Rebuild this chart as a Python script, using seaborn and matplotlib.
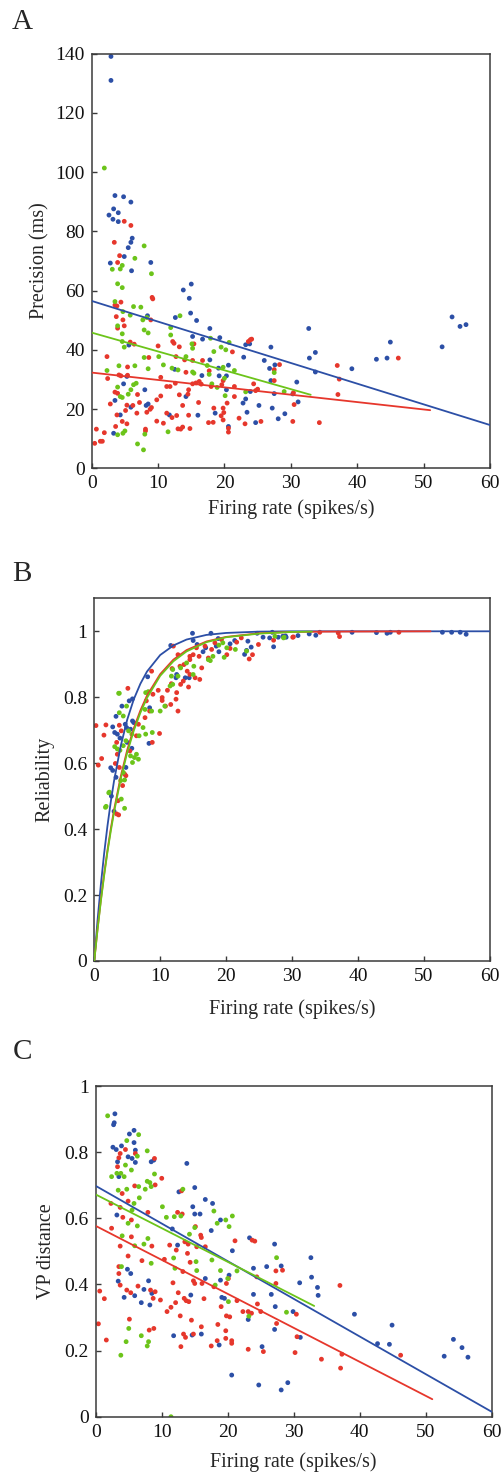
import numpy as np
import pandas as pd
import matplotlib
matplotlib.use("Agg")
import matplotlib.pyplot as plt
import seaborn as sns

# -----------------------------
# Data
# -----------------------------
# Panel A: precision vs firing rate
a_blue_x = [2.9, 2.9, 3.5, 4.8, 5.9, 3.3, 4.0, 2.6, 3.2, 4.0, 6.1, 5.9, 5.5, 2.8, 4.9, 6.0, 8.9, 13.8, 15.0, 14.7,
            14.9, 15.8, 12.6, 8.4, 5.6, 4.8, 5.3, 3.5, 3.3, 4.3, 5.9, 8.2, 8.5, 8.0, 15.2, 16.7, 17.8, 17.8, 19.3, 19.1,
            19.2, 20.3, 20.3, 20.6, 16.6, 16.0, 18.6, 20.6, 14.2, 12.5, 11.7, 22.9, 23.2, 23.8, 23.9, 23.2, 22.8, 23.4,
            24.7, 25.2, 26.0, 27.0, 26.8, 27.0, 27.5, 27.2, 27.6, 28.1, 29.1, 30.3, 30.9, 31.1, 32.7, 32.8, 33.7, 33.7,
            39.2, 42.9, 44.5, 45.0, 52.8, 54.3, 55.5, 56.4]
a_blue_y = [139.1, 131.0, 92.1, 91.7, 89.9, 87.6, 86.3, 85.5, 84.1, 83.3, 77.7, 76.3, 74.5, 69.3, 71.5, 66.7, 69.5, 60.2,
            62.2, 57.4, 52.4, 49.9, 50.9, 51.5, 41.6, 28.5, 31.0, 22.9, 11.8, 18.0, 20.6, 21.2, 21.7, 26.5, 44.5, 43.6,
            36.6, 47.2, 44.1, 33.8, 31.2, 31.2, 26.5, 34.8, 31.3, 17.9, 18.6, 14.1, 24.2, 33.4, 18.0, 37.5, 41.7, 42.0,
            25.9, 23.4, 22.0, 18.9, 15.4, 21.2, 36.4, 40.9, 33.7, 29.6, 25.2, 20.3, 34.9, 16.7, 18.4, 25.1, 29.1, 22.4,
            47.2, 37.2, 39.1, 32.5, 33.6, 36.8, 37.2, 42.6, 41.0, 51.1, 47.9, 48.5]

a_red_x = [4.9, 5.9, 3.4, 4.2, 3.9, 9.1, 9.2, 4.4, 3.5, 3.8, 4.7, 3.7, 4.9, 3.9, 8.9, 6.4, 5.8, 10.0, 8.6, 2.3, 4.1,
           4.4, 5.4, 5.4, 2.4, 3.5, 3.9, 2.8, 5.3, 5.1, 5.3, 4.6, 3.6, 3.8, 0.7, 1.9, 1.3, 1.6, 0.45, 6.9, 6.8, 7.2,
           6.2, 8.1, 8.1, 8.3, 8.8, 9.0, 9.8, 9.8, 10.4, 10.8, 10.4, 11.3, 11.3, 11.8, 12.1, 12.2, 12.4, 12.7, 12.6,
           12.8, 13.0, 13.2, 13.2, 13.4, 13.7, 13.7, 14.0, 14.2, 14.5, 14.6, 14.6, 14.8, 15.2, 15.4, 15.2, 15.7, 16.1,
           16.2, 16.5, 16.7, 17.6, 17.7, 18.0, 18.4, 18.3, 19.6, 19.5, 19.8, 19.8, 19.9, 19.8, 20.4, 20.6, 20.6, 21.2,
           21.5, 21.5, 22.2, 23.1, 23.6, 23.9, 24.1, 24.4, 24.7, 25.0, 25.5, 27.5, 27.5, 28.3, 30.4, 30.5, 30.3, 34.3,
           37.0, 37.3, 37.1, 46.2]
a_red_y = [83.4, 82.0, 76.3, 71.8, 69.5, 57.7, 57.2, 56.1, 55.1, 54.8, 50.1, 51.2, 48.1, 47.3, 50.1, 41.9, 42.6, 41.3,
           37.4, 37.7, 31.5, 31.2, 34.2, 31.4, 30.3, 25.7, 25.3, 21.7, 21.3, 19.5, 15.0, 15.8, 14.1, 18.0, 13.2, 12.0,
           9.1, 9.1, 8.4, 24.9, 18.6, 22.2, 21.2, 13.2, 12.6, 18.9, 19.9, 20.5, 23.1, 15.9, 30.7, 15.2, 24.4, 27.6,
           18.6, 27.6, 17.1, 42.8, 42.2, 37.7, 28.7, 17.8, 13.3, 41.0, 24.8, 13.2, 13.9, 21.2, 36.6, 32.4, 25.0, 26.5,
           17.9, 13.4, 36.4, 42.0, 28.5, 28.8, 22.2, 29.3, 28.4, 36.4, 15.4, 32.9, 27.6, 20.3, 15.5, 28.2, 17.7, 16.3,
           20.3, 18.8, 29.6, 22.0, 13.5, 12.2, 39.3, 27.6, 24.2, 16.9, 15.0, 42.8, 43.4, 43.6, 28.5, 26.2, 26.7, 15.8,
           33.3, 29.6, 35.0, 25.5, 21.5, 15.8, 15.4, 34.7, 30.1, 24.9, 37.2]

a_green_x = [1.9, 7.9, 3.1, 4.3, 4.6, 6.5, 9.0, 3.9, 4.6, 3.5, 4.7, 5.8, 6.3, 7.4, 7.7, 8.3, 3.9, 7.9, 8.5, 4.6, 4.6,
             4.9, 2.3, 4.1, 6.5, 7.9, 10.1, 8.5, 3.9, 4.3, 4.6, 5.5, 5.9, 6.3, 6.7, 3.9, 4.7, 5.0, 6.9, 7.8, 8.0, 10.8,
             11.5, 11.9, 11.9, 12.1, 13.0, 13.3, 14.2, 15.1, 15.2, 15.2, 15.4, 17.4, 17.7, 17.9, 18.1, 18.4, 18.9,
             19.5, 19.8, 20.0, 20.1, 20.2, 20.7, 21.5, 23.2, 27.5, 29.0]
a_green_y = [101.4, 75.1, 67.2, 67.3, 68.5, 70.9, 65.7, 62.3, 61.0, 56.3, 52.9, 51.7, 54.6, 54.4, 50.1, 50.9, 48.1, 46.7,
             45.7, 45.4, 42.8, 40.9, 33.0, 34.6, 34.6, 37.4, 37.7, 33.6, 27.4, 24.2, 23.9, 25.0, 26.5, 28.2, 28.7, 11.3,
             11.8, 12.6, 8.2, 6.2, 11.5, 34.9, 12.3, 47.5, 45.0, 33.8, 33.2, 51.5, 37.7, 42.0, 40.5, 32.5, 32.1, 34.7,
             31.7, 43.9, 28.5, 39.4, 27.3, 40.9, 34.1, 30.4, 24.5, 40.0, 42.5, 33.0, 25.8, 32.3, 25.9]

# linear fits in A (end points of each fit line)
a_fit_blue_x, a_fit_blue_y = [0, 60], [56.5, 14.6]
a_fit_red_x, a_fit_red_y = [0, 51], [32.3, 19.6]
a_fit_green_x, a_fit_green_y = [0, 33], [45.8, 24.8]

# Panel B: reliability vs firing rate
b_blue_x = [14.9, 17.7, 15.0, 11.6, 8.1, 5.3, 5.8, 4.2, 3.3, 2.8, 3.1, 3.5, 3.9, 5.8, 6.0, 4.7, 4.9, 5.5, 5.0, 5.7,
            8.3, 8.4, 2.5, 2.8, 3.3, 4.8, 2.6, 3.0, 12.4, 13.8, 14.4, 12.5, 15.6, 16.5, 16.9, 18.8, 18.5, 18.9, 20.6,
            21.3, 22.8, 23.1, 23.3, 23.8, 24.7, 25.6, 27.0, 27.2, 26.6, 27.9, 28.6, 29.1, 29.0, 30.9, 32.6, 33.6, 39.1,
            42.8, 44.4, 44.9, 52.8, 54.2, 55.5, 56.4]
b_blue_y = [0.994, 0.994, 0.972, 0.957, 0.862, 0.789, 0.795, 0.773, 0.742, 0.710, 0.693, 0.688, 0.676, 0.728, 0.723,
            0.718, 0.708, 0.703, 0.663, 0.645, 0.660, 0.768, 0.586, 0.578, 0.557, 0.587, 0.500, 0.454, 0.859, 0.859,
            0.859, 0.869, 0.960, 0.938, 0.950, 0.978, 0.955, 0.938, 0.962, 0.972, 0.930, 0.942, 0.970, 0.952, 0.994,
            0.982, 0.997, 0.953, 0.980, 0.982, 0.985, 0.982, 0.986, 0.987, 0.992, 0.988, 0.997, 0.996, 0.994, 0.997,
            0.997, 0.997, 0.997, 0.991]

b_red_x = [0.26, 1.77, 1.47, 1.12, 0.61, 5.1, 3.8, 4.1, 3.4, 3.5, 3.2, 3.8, 4.6, 4.8, 3.6, 4.3, 3.4, 3.7, 5.4, 6.4,
           9.9, 8.8, 6.7, 7.7, 8.4, 7.9, 9.7, 8.9, 8.7, 10.3, 10.3, 10.8, 11.6, 12.7, 12.4, 11.1, 11.7, 12.5, 13.1,
           14.3, 13.5, 14.5, 14.1, 13.0, 11.8, 13.6, 14.5, 15.0, 16.0, 15.9, 16.3, 15.3, 14.5, 12.7, 12.0, 15.5, 16.8,
           18.3, 19.3, 21.6, 22.3, 23.5, 24.0, 24.9, 27.2, 30.2, 20.6, 20.1, 17.8, 17.3, 30.1, 34.2, 37.0, 37.2, 46.2]
b_red_y = [0.714, 0.716, 0.685, 0.614, 0.594, 0.827, 0.715, 0.698, 0.663, 0.627, 0.599, 0.587, 0.567, 0.562, 0.486,
           0.532, 0.446, 0.443, 0.637, 0.683, 0.690, 0.663, 0.718, 0.738, 0.758, 0.789, 0.821, 0.809, 0.879, 0.790,
           0.799, 0.773, 0.778, 0.758, 0.794, 0.821, 0.841, 0.814, 0.839, 0.831, 0.849, 0.869, 0.879, 0.894, 0.887,
           0.899, 0.924, 0.929, 0.854, 0.924, 0.889, 0.859, 0.914, 0.929, 0.955, 0.950, 0.955, 0.965, 0.975, 0.967,
           0.980, 0.916, 0.929, 0.960, 0.973, 0.983, 0.948, 0.929, 0.945, 0.919, 0.982, 0.997, 0.995, 0.984, 0.997]

b_green_x = [3.8, 4.4, 4.9, 3.8, 3.1, 3.5, 3.9, 4.4, 4.8, 5.2, 5.7, 5.5, 6.1, 6.4, 6.7, 5.8, 4.4, 4.0, 4.6, 2.3, 1.8,
             4.1, 4.6, 6.8, 7.4, 7.8, 8.8, 7.7, 8.7, 10.0, 7.8, 8.2, 10.7, 11.5, 11.9, 11.9, 11.7, 12.7, 13.1, 14.0,
             15.1, 15.0, 17.3, 17.6, 18.0, 19.7, 18.9, 19.5, 20.1, 21.4, 23.1, 27.4, 28.8, 28.7, 1.7, 2.2, 3.7]
b_green_y = [0.812, 0.743, 0.773, 0.753, 0.650, 0.643, 0.639, 0.653, 0.668, 0.698, 0.688, 0.622, 0.617, 0.627, 0.612,
             0.602, 0.572, 0.547, 0.549, 0.512, 0.469, 0.491, 0.463, 0.683, 0.708, 0.688, 0.693, 0.763, 0.758, 0.758,
             0.814, 0.817, 0.773, 0.834, 0.839, 0.884, 0.864, 0.864, 0.889, 0.904, 0.894, 0.869, 0.914, 0.911, 0.924,
             0.921, 0.958, 0.965, 0.950, 0.945, 0.940, 0.985, 0.982, 0.980, 0.466, 0.510, 0.812]

# saturating fit curves in B
b_fit_blue_x = [0, 0.5, 1, 1.5, 2, 2.5, 3, 4, 5, 6, 7, 8, 10, 12, 14, 17, 20, 25, 30, 35, 60]
b_fit_blue_y = [0, 0.123, 0.231, 0.326, 0.409, 0.482, 0.546, 0.651, 0.732, 0.794, 0.841, 0.878, 0.928, 0.957, 0.975,
                0.989, 0.995, 0.999, 1.0, 1.0, 1.0]
b_fit_red_x = [0, 0.5, 1, 1.5, 2, 2.5, 3, 4, 5, 6, 7, 8, 10, 12, 14, 17, 20, 25, 30, 35, 51]
b_fit_red_y = [0, 0.097, 0.185, 0.264, 0.335, 0.400, 0.458, 0.558, 0.640, 0.706, 0.760, 0.805, 0.870, 0.914, 0.943,
               0.969, 0.983, 0.994, 0.998, 0.999, 1.0]
b_fit_green_x = [0, 0.5, 1, 1.5, 2, 2.5, 3, 4, 5, 6, 7, 8, 10, 12, 14, 17, 20, 25, 30, 33]
b_fit_green_y = [0, 0.095, 0.181, 0.259, 0.330, 0.393, 0.451, 0.551, 0.632, 0.699, 0.753, 0.798, 0.865, 0.909, 0.939,
                 0.967, 0.982, 0.993, 0.998, 0.999]

# Panel C: VP distance vs firing rate
c_blue_x = [2.9, 2.8, 2.7, 5.1, 5.8, 5.8, 2.6, 3.1, 3.9, 6.0, 4.9, 5.5, 6.0, 3.3, 8.4, 8.8, 3.5, 13.8, 12.6, 15.0,
            16.6, 17.7, 14.7, 15.0, 15.8, 17.5, 18.9, 11.6, 12.4, 20.7, 3.2, 3.4, 4.8, 5.3, 4.3, 5.9, 7.3, 6.9, 8.0,
            8.5, 8.2, 11.8, 14.6, 16.0, 14.4, 16.6, 18.9, 20.2, 19.1, 19.5, 18.7, 20.6, 23.3, 23.9, 25.9, 27.1, 28.1,
            23.9, 26.6, 27.2, 27.1, 25.2, 23.1, 24.7, 28.1, 29.1, 29.9, 32.6, 30.9, 32.7, 33.6, 33.7, 31.0, 39.2, 42.7,
            44.5, 44.9, 52.8, 54.2, 55.5, 56.4]
c_blue_y = [0.916, 0.889, 0.883, 0.855, 0.866, 0.829, 0.815, 0.808, 0.819, 0.806, 0.786, 0.781, 0.769, 0.771, 0.771,
            0.776, 0.726, 0.766, 0.680, 0.693, 0.657, 0.645, 0.635, 0.613, 0.613, 0.563, 0.595, 0.568, 0.519, 0.502,
            0.610, 0.410, 0.446, 0.433, 0.361, 0.366, 0.385, 0.345, 0.411, 0.373, 0.338, 0.245, 0.247, 0.250, 0.368,
            0.418, 0.413, 0.428, 0.361, 0.358, 0.217, 0.126, 0.541, 0.449, 0.454, 0.522, 0.456, 0.370, 0.370, 0.333,
            0.264, 0.212, 0.294, 0.096, 0.081, 0.103, 0.318, 0.481, 0.405, 0.422, 0.391, 0.367, 0.240, 0.310, 0.221,
            0.219, 0.277, 0.183, 0.234, 0.209, 0.180]

c_red_x = [3.7, 4.5, 3.5, 6.0, 3.3, 8.9, 10.0, 5.9, 9.0, 13.0, 2.3, 3.7, 4.9, 4.1, 5.4, 2.4, 7.9, 3.7, 5.4, 4.9, 7.0,
           8.5, 11.2, 12.2, 12.4, 13.1, 13.5, 13.9, 14.3, 15.1, 15.3, 15.9, 16.6, 10.4, 3.5, 3.7, 4.7, 5.3, 0.6, 1.3,
           6.4, 8.3, 8.7, 9.0, 9.8, 10.8, 11.4, 12.1, 11.7, 12.5, 13.2, 13.4, 13.7, 14.1, 14.8, 15.0, 16.1, 16.4, 12.8,
           14.5, 16.0, 5.1, 0.4, 1.6, 8.1, 8.8, 13.3, 13.6, 14.8, 12.9, 17.5, 18.4, 19.7, 19.7, 20.6, 20.6, 18.5, 19.8,
           20.3, 19.0, 21.4, 22.3, 23.1, 23.6, 24.5, 25.0, 23.1, 25.4, 21.1, 23.7, 24.1, 24.4, 20.1, 17.9, 27.3, 27.3,
           28.3, 27.4, 19.8, 16.0, 14.0, 3.5, 4.0, 37.0, 30.4, 30.5, 30.2, 34.2, 37.3, 37.1, 46.2]
c_red_y = [0.796, 0.808, 0.783, 0.796, 0.756, 0.781, 0.721, 0.698, 0.701, 0.683, 0.645, 0.633, 0.652, 0.603, 0.595,
           0.570, 0.618, 0.516, 0.544, 0.486, 0.472, 0.516, 0.519, 0.504, 0.618, 0.613, 0.529, 0.494, 0.467, 0.575,
           0.514, 0.549, 0.514, 0.476, 0.433, 0.398, 0.383, 0.375, 0.380, 0.357, 0.395, 0.383, 0.358, 0.378, 0.353,
           0.318, 0.331, 0.345, 0.405, 0.375, 0.439, 0.358, 0.351, 0.348, 0.411, 0.403, 0.403, 0.357, 0.305, 0.292,
           0.272, 0.295, 0.281, 0.232, 0.262, 0.267, 0.250, 0.240, 0.250, 0.212, 0.214, 0.230, 0.260, 0.237, 0.230,
           0.222, 0.279, 0.305, 0.302, 0.333, 0.351, 0.318, 0.318, 0.313, 0.341, 0.318, 0.204, 0.197, 0.532, 0.534,
           0.531, 0.423, 0.418, 0.393, 0.441, 0.403, 0.443, 0.282, 0.403, 0.542, 0.522, 0.454, 0.675, 0.397, 0.310,
           0.242, 0.194, 0.174, 0.189, 0.147, 0.186]

c_green_x = [1.8, 6.5, 4.7, 7.8, 6.3, 4.5, 5.4, 3.2, 3.8, 4.3, 2.4, 8.9, 7.8, 8.2, 8.4, 7.5, 6.5, 13.2, 3.4, 4.7, 6.6,
             5.8, 5.5, 10.1, 10.7, 11.9, 12.9, 6.3, 4.9, 4.0, 5.9, 7.3, 7.9, 8.4, 11.8, 12.0, 14.2, 15.0, 15.2, 15.3,
             17.6, 17.9, 18.4, 19.7, 20.2, 20.7, 18.9, 18.1, 20.0, 20.1, 21.4, 23.2, 27.4, 28.9, 3.9, 5.0, 4.6, 6.9,
             7.8, 8.0, 3.8, 11.4]
c_green_y = [0.910, 0.853, 0.835, 0.804, 0.788, 0.761, 0.746, 0.736, 0.736, 0.726, 0.726, 0.734, 0.712, 0.708, 0.696,
             0.688, 0.696, 0.688, 0.685, 0.688, 0.662, 0.645, 0.625, 0.635, 0.603, 0.605, 0.607, 0.577, 0.585, 0.547,
             0.517, 0.522, 0.539, 0.464, 0.480, 0.449, 0.552, 0.572, 0.469, 0.442, 0.474, 0.622, 0.585, 0.595, 0.575,
             0.607, 0.442, 0.398, 0.418, 0.348, 0.441, 0.304, 0.481, 0.316, 0.454, 0.267, 0.227, 0.245, 0.214, 0.227,
             0.186, 0.000]

# linear fits in C
c_fit_blue_x, c_fit_blue_y = [0, 60], [0.698, 0.015]
c_fit_red_x, c_fit_red_y = [0, 51], [0.577, 0.053]
c_fit_green_x, c_fit_green_y = [0, 33.1], [0.672, 0.335]

# -----------------------------
# Style
# -----------------------------
sns.set_style("ticks")
plt.rcParams['font.family'] = ['Liberation Serif', 'DejaVu Serif']
plt.rcParams.update({
    "font.size": 14,
    "axes.labelsize": 14.5,
    "xtick.labelsize": 14,
    "ytick.labelsize": 14,
    "xtick.direction": "in",
    "ytick.direction": "in",
    "axes.edgecolor": "#3a3a3a",
    "axes.linewidth": 1.1,
    "xtick.color": "#3a3a3a",
    "ytick.color": "#3a3a3a",
    "xtick.labelcolor": "#111111",
    "ytick.labelcolor": "#111111",
})

blue = "#2c4fa6"
red = "#e6372c"
green = "#6cc41a"
palette = {"blue": blue, "red": red, "green": green}


def scatter_df(groups):
    rows = []
    for name, xs, ys in groups:
        rows.append(pd.DataFrame({"x": xs, "y": ys, "group": name}))
    return pd.concat(rows, ignore_index=True)


def draw_panel(ax, df, fits, xpad=8):
    sns.scatterplot(data=df, x="x", y="y", hue="group", palette=palette, s=12,
                    linewidth=0, legend=False, ax=ax, zorder=2)
    for name, fx, fy in fits:
        sns.lineplot(x=fx, y=fy, color=palette[name], linewidth=1.3, sort=False,
                     estimator=None, ax=ax, zorder=3)
    ax.set_xlim(0, 60)
    ax.set_xticks(range(0, 61, 10))
    ax.tick_params(length=3.5, width=1.0, pad=5)
    for sp in ax.spines.values():
        sp.set_visible(True)
    ax.set_xlabel("Firing rate (spikes/s)", labelpad=xpad)


# -----------------------------
# Figure
# -----------------------------
fig = plt.figure(figsize=(5.04, 14.77), dpi=100)

axA = fig.add_axes([0.182, 0.683, 0.790, 0.2806])
dfA = scatter_df([("blue", a_blue_x, a_blue_y), ("red", a_red_x, a_red_y), ("green", a_green_x, a_green_y)])
draw_panel(axA, dfA, [("blue", a_fit_blue_x, a_fit_blue_y), ("red", a_fit_red_x, a_fit_red_y),
                      ("green", a_fit_green_x, a_fit_green_y)], xpad=5)
axA.set_ylim(0, 140)
axA.set_yticks(range(0, 141, 20))
axA.set_ylabel("Precision (ms)", labelpad=4)

axB = fig.add_axes([0.187, 0.3494, 0.785, 0.2455])
dfB = scatter_df([("blue", b_blue_x, b_blue_y), ("red", b_red_x, b_red_y), ("green", b_green_x, b_green_y)])
draw_panel(axB, dfB, [("blue", b_fit_blue_x, b_fit_blue_y), ("red", b_fit_red_x, b_fit_red_y),
                      ("green", b_fit_green_x, b_fit_green_y)], xpad=10)
axB.set_ylim(0, 1.1)
axB.set_yticks([0, 0.2, 0.4, 0.6, 0.8, 1])
axB.set_yticklabels(["0", "0.2", "0.4", "0.6", "0.8", "1"])
axB.set_ylabel("Reliability", labelpad=6)

axC = fig.add_axes([0.190, 0.0408, 0.7856, 0.2239])
dfC = scatter_df([("blue", c_blue_x, c_blue_y), ("red", c_red_x, c_red_y), ("green", c_green_x, c_green_y)])
draw_panel(axC, dfC, [("blue", c_fit_blue_x, c_fit_blue_y), ("red", c_fit_red_x, c_fit_red_y),
                      ("green", c_fit_green_x, c_fit_green_y)])
axC.set_ylim(0, 1)
axC.set_yticks([0, 0.2, 0.4, 0.6, 0.8, 1])
axC.set_yticklabels(["0", "0.2", "0.4", "0.6", "0.8", "1"])
axC.set_ylabel("VP distance", labelpad=6)

# panel letters
for letter, ypix in [("A", 22), ("B", 574), ("C", 1052)]:
    fig.text(22 / 504, 1 - ypix / 1477, letter, fontsize=21, ha="center", va="center")

fig.savefig("out.png", dpi=100)
